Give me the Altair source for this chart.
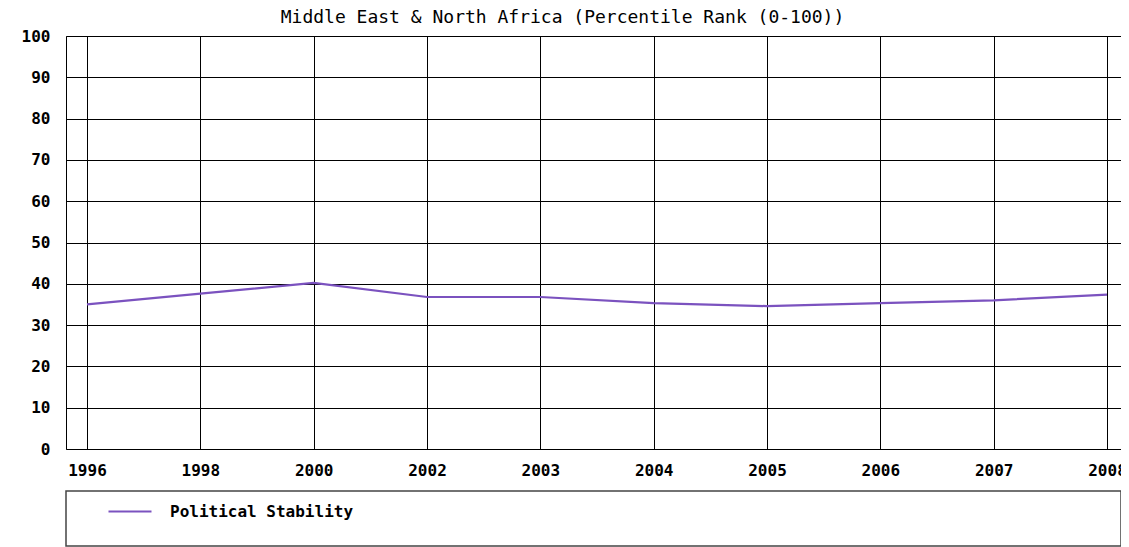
import altair as alt
import pandas as pd

years = ["1996", "1998", "2000", "2002", "2003", "2004", "2005", "2006", "2007", "2008"]
values = [35.0, 37.6, 40.2, 36.8, 36.8, 35.3, 34.6, 35.3, 36.0, 37.4]
series_name = "Political Stability"
y_ticks = [0, 10, 20, 30, 40, 50, 60, 70, 80, 90, 100]
title_text = "Middle East & North Africa (Percentile Rank (0-100))"

df = pd.DataFrame({
    "idx": list(range(len(years))),
    "year": years,
    "value": values,
    "series": [series_name] * len(years),
})

MONO = "DejaVu Sans Mono"
W, H = 1055, 413
step = 113.33
label_expr = "[" + ",".join("'%s'" % y for y in years) + "][datum.value]"

line = alt.Chart(df).mark_line(strokeWidth=2.2).encode(
    x=alt.X(
        "idx:Q",
        scale=alt.Scale(domain=[-21 / step, 9 + 14 / step], nice=False, zero=False),
        axis=alt.Axis(
            title=None, values=list(range(len(years))), labelExpr=label_expr,
            labelAngle=0, grid=True, gridColor="#000", gridWidth=1,
            ticks=False, domain=False, labelFont=MONO, labelFontSize=16,
            labelFontWeight="bold", labelColor="#000", labelPadding=13,
        ),
    ),
    y=alt.Y(
        "value:Q",
        scale=alt.Scale(domain=[0, 100], nice=False),
        axis=alt.Axis(
            title=None, values=y_ticks, grid=True, gridColor="#000", gridWidth=1,
            ticks=False, domain=False, labelFont=MONO, labelFontSize=16,
            labelFontWeight="bold", labelColor="#000", labelPadding=16,
        ),
    ),
    color=alt.Color(
        "series:N",
        scale=alt.Scale(range=["#7b52bf"]),
        legend=alt.Legend(
            title=None, orient="none", legendX=41, legendY=452.5,
            symbolType="stroke", symbolSize=1849, symbolStrokeWidth=2.2,
            labelFont=MONO, labelFontSize=16, labelFontWeight="bold",
            labelColor="#000", labelOffset=17, labelLimit=500, padding=0,
        ),
    ),
)

box = alt.Chart(pd.DataFrame({"k": [0]})).mark_rect(
    fillOpacity=0, stroke="#444", strokeWidth=1.5
).encode(
    x=alt.value(0), x2=alt.value(W), y=alt.value(455), y2=alt.value(510)
)

chart = alt.layer(box, line).properties(
    width=W,
    height=H,
    autosize=alt.AutoSizeParams(type="none"),
    padding={"left": 58, "top": 28, "right": 0, "bottom": 98},
    title=alt.TitleParams(
        text=title_text, font=MONO, fontSize=18, fontWeight="normal",
        color="#000", anchor="middle", dx=-31, offset=1,
    ),
).configure_view(stroke="#000", strokeWidth=1)

chart.save("out.html", embed_options={"renderer": "svg", "actions": False})
